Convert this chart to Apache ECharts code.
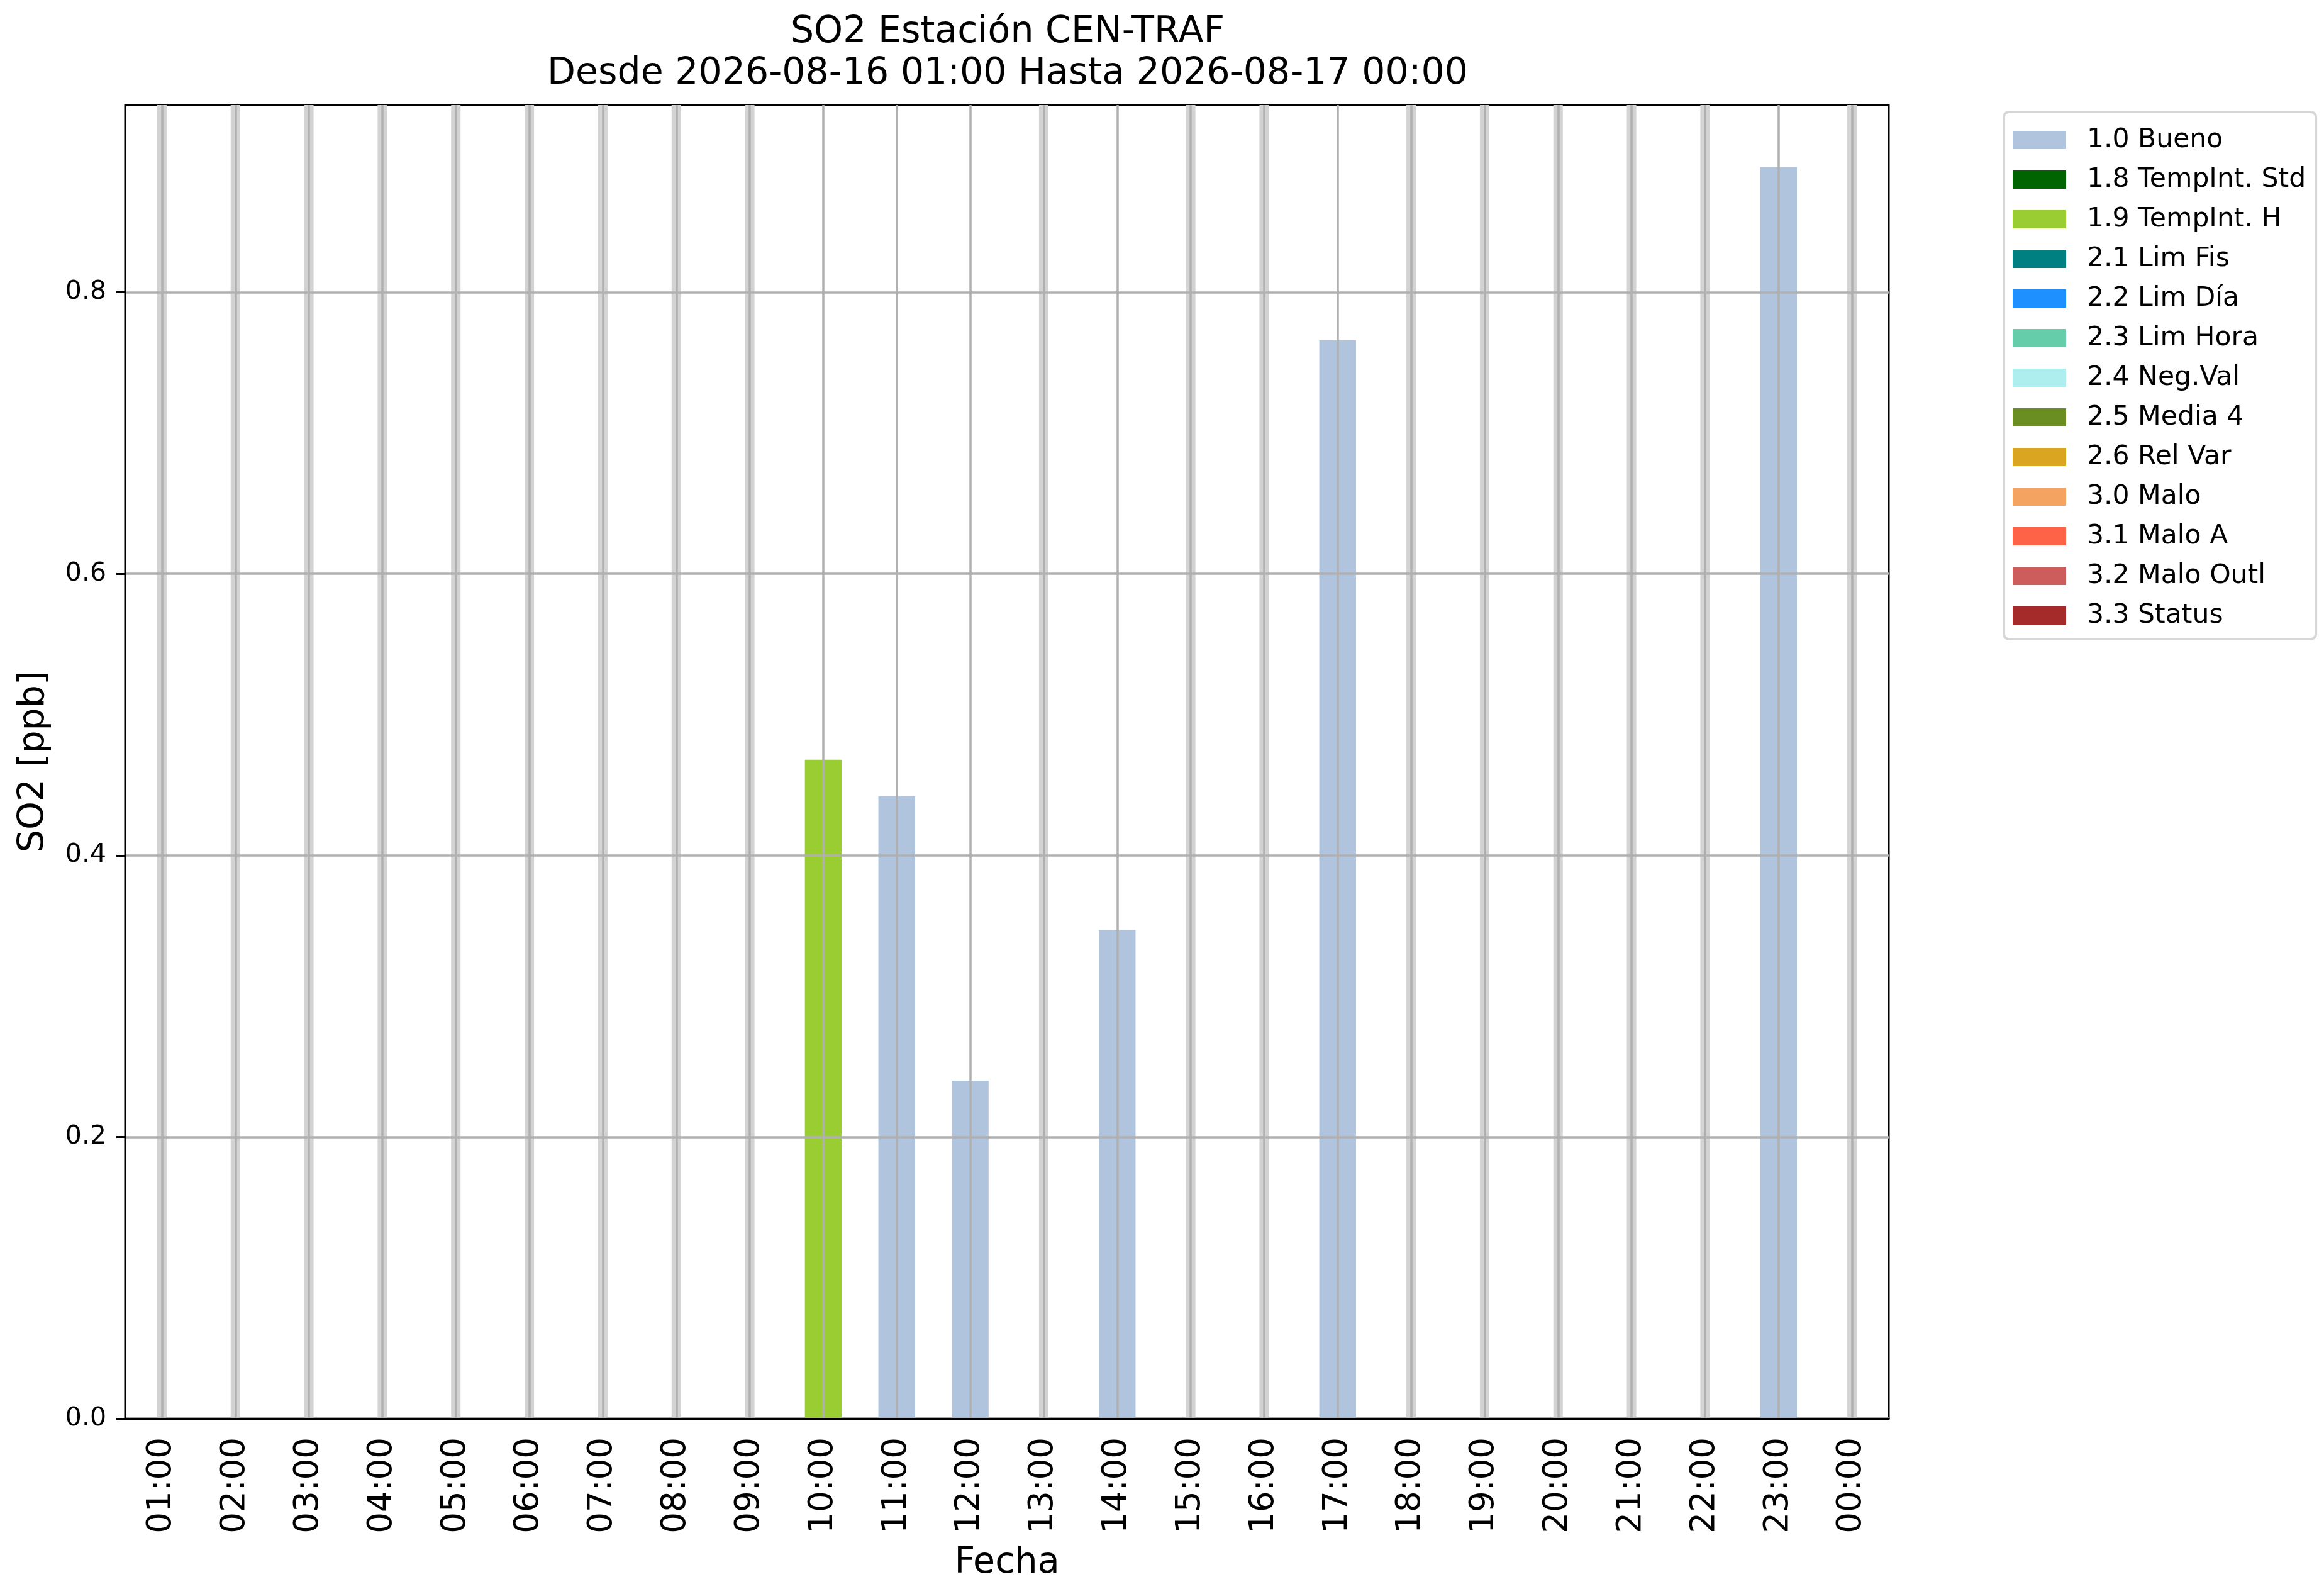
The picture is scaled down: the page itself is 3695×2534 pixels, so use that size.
<!DOCTYPE html>
<html>
<head>
<meta charset="utf-8">
<title>SO2 CEN-TRAF</title>
<script src="https://cdn.jsdelivr.net/npm/echarts@6/dist/echarts.min.js"></script>
<style>
html, body { margin: 0; padding: 0; background: #fff; }
#main { width: 3695px; height: 2534px; }
</style>
</head>
<body>
<div id="main"></div>
<script>
// hourly SO2 values, null = no data for that hour
var hours = ['01:00', '02:00', '03:00', '04:00', '05:00', '06:00', '07:00', '08:00',
  '09:00', '10:00', '11:00', '12:00', '13:00', '14:00', '15:00', '16:00', '17:00',
  '18:00', '19:00', '20:00', '21:00', '22:00', '23:00', '00:00'];
var so2 = [null, null, null, null, null, null, null, null,
  null, 0.468, 0.442, 0.240, null, 0.347, null, null, 0.766,
  null, null, null, null, null, 0.889, null];
// quality flag for each hour
var flags = [null, null, null, null, null, null, null, null,
  null, '1.9', '1.0', '1.0', null, '1.0', null, null, '1.0',
  null, null, null, null, null, '1.0', null];

var qualityCodes = ['1.0', '1.8', '1.9', '2.1', '2.2', '2.3', '2.4', '2.5', '2.6', '3.0', '3.1', '3.2', '3.3'];
var qualityNames = ['1.0 Bueno', '1.8 TempInt. Std', '1.9 TempInt. H', '2.1 Lim Fis', '2.2 Lim Día',
  '2.3 Lim Hora', '2.4 Neg.Val', '2.5 Media 4', '2.6 Rel Var', '3.0 Malo', '3.1 Malo A',
  '3.2 Malo Outl', '3.3 Status'];
var qualityColors = ['#b0c4de', '#006400', '#9acd32', '#008080', '#1e90ff', '#66cdaa', '#afeeee',
  '#6b8e23', '#daa520', '#f4a460', '#ff6347', '#cd5c5c', '#a52a2a'];

var yTicks = [0, 0.2, 0.4, 0.6, 0.8];
var yMax = 0.933;

var font = '"DejaVu Sans", sans-serif';

var dom = document.getElementById('main');
var myChart = echarts.init(dom, null, { renderer: 'canvas' });

var series = [];
for (var i = 0; i < qualityCodes.length; i++) {
  var code = qualityCodes[i];
  series.push({
    name: qualityNames[i],
    type: 'bar',
    stack: 'quality',
    xAxisIndex: 0,
    barWidth: '50%',
    itemStyle: { color: qualityColors[i] },
    data: hours.map(function (h, k) { return flags[k] === code ? so2[k] : null; })
  });
}
// missing hours are marked with a thin grey band
series.push({
  name: 'missing',
  type: 'bar',
  xAxisIndex: 1,
  barWidth: 15,
  z: 1,
  silent: true,
  itemStyle: { color: '#d3d3d3' },
  data: so2.map(function (v) { return v === null ? yMax : null; })
});

var option = {
  animation: false,
  backgroundColor: '#fff',
  textStyle: { fontFamily: font, color: '#000' },
  title: {
    text: 'SO2 Estación CEN-TRAF\nDesde 2026-08-16 01:00 Hasta 2026-08-17 00:00',
    left: 1602,
    top: 19,
    padding: 0,
    textAlign: 'center',
    textStyle: { fontFamily: font, fontSize: 58.5, fontWeight: 'normal', color: '#000', lineHeight: 66 }
  },
  legend: {
    data: qualityNames,
    orient: 'vertical',
    left: 3186,
    top: 178,
    padding: [23, 16, 16, 14],
    icon: 'rect',
    itemWidth: 85,
    itemHeight: 29,
    itemGap: 20,
    selectedMode: false,
    backgroundColor: '#fff',
    borderColor: '#d6d6d6',
    borderWidth: 4,
    borderRadius: 8,
    textStyle: { fontFamily: font, fontSize: 42.5, color: '#000', lineHeight: 42, padding: [0, 0, 0, 28] }
  },
  grid: {
    left: 199,
    right: 692,
    top: 167,
    bottom: 279,
    show: true,
    borderColor: '#000',
    borderWidth: 3,
    containLabel: false
  },
  xAxis: [
    {
      type: 'category',
      data: hours,
      z: 3,
      name: 'Fecha',
      nameLocation: 'middle',
      nameGap: 230,
      nameTextStyle: { fontFamily: font, fontSize: 57, color: '#000', verticalAlign: 'middle' },
      axisLine: { lineStyle: { color: '#000', width: 3 } },
      axisTick: { alignWithLabel: true, inside: false, length: 14, lineStyle: { color: '#000', width: 3 } },
      axisLabel: { rotate: 90, margin: 30, fontFamily: font, fontSize: 53, color: '#000', interval: 0 },
      splitLine: { show: true, alignWithLabel: true, lineStyle: { color: '#b0b0b0', width: 3.5 } }
    },
    {
      type: 'category',
      data: hours,
      show: false
    }
  ],
  yAxis: {
    type: 'value',
    min: 0,
    max: yMax,
    interval: 0.2,
    z: 3,
    name: 'SO2 [ppb]',
    nameLocation: 'middle',
    nameGap: 145,
    nameRotate: 90,
    nameTextStyle: { fontFamily: font, fontSize: 57, color: '#000', verticalAlign: 'middle' },
    axisLine: { show: true, lineStyle: { color: '#000', width: 3 } },
    axisTick: { show: true, length: 14, customValues: yTicks, lineStyle: { color: '#000', width: 3 } },
    axisLabel: {
      margin: 30,
      fontFamily: font,
      fontSize: 41,
      color: '#000',
      customValues: yTicks,
      formatter: function (v) { return Number(v).toFixed(1); }
    },
    splitLine: { show: true, lineStyle: { color: '#b0b0b0', width: 3.5 } }
  },
  series: series
};

if (option && typeof option === 'object') {
  myChart.setOption(option);
}

window.addEventListener('resize', myChart.resize);
</script>
</body>
</html>
